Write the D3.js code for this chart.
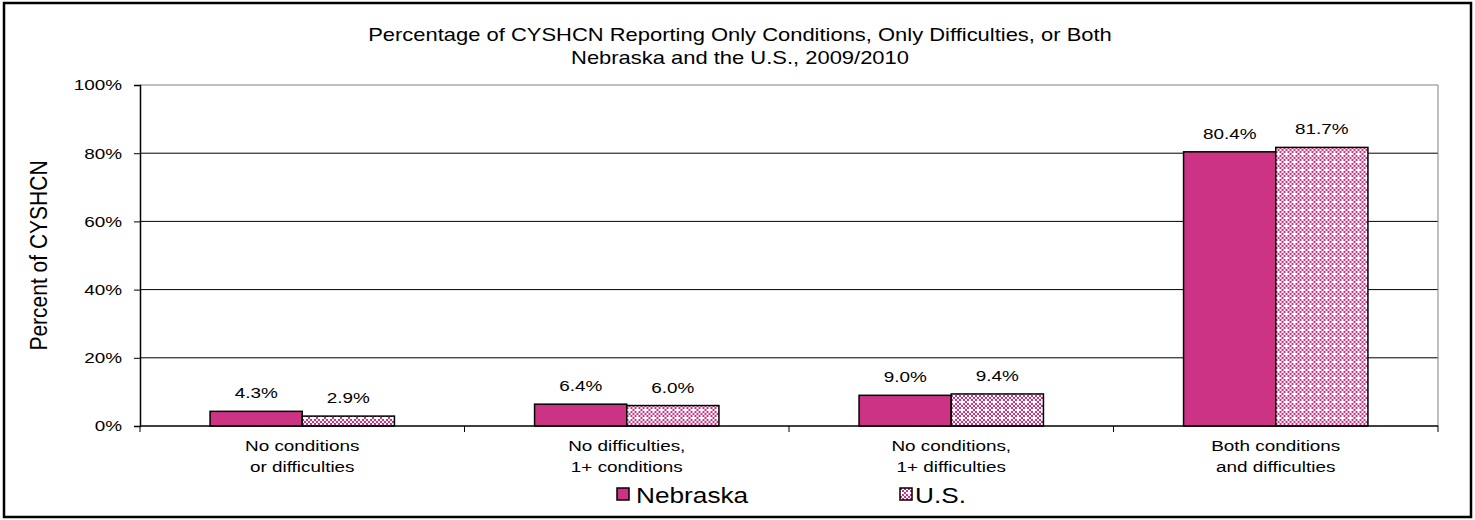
<!DOCTYPE html>
<html>
<head>
<meta charset="utf-8">
<script src="https://cdn.jsdelivr.net/npm/d3@7"></script>
<style>
  body { margin: 0; background: #fff; }
  text { font-family: "Liberation Sans", Arial, sans-serif; fill: #000; }
</style>
</head>
<body>
<script>
// donnees
var categories = [
  ["No conditions", "or difficulties"],
  ["No difficulties,", "1+ conditions"],
  ["No conditions,", "1+ difficulties"],
  ["Both conditions", "and difficulties"]
];
var seriesNames = ["Nebraska", "U.S."];
var nebraska = [4.3, 6.4, 9.0, 80.4];
var us = [2.9, 6.0, 9.4, 81.7];
var yTicks = [0, 20, 40, 60, 80, 100];
var titleLines = [
  "Percentage of CYSHCN Reporting Only Conditions, Only Difficulties, or Both",
  "Nebraska and the U.S., 2009/2010"
];

var W = 1475, H = 520;
var SX = 1.22; // etirement horizontal du texte
var magenta = "#cc3385";
var margin = {top: 85, left: 140, right: 37, bottom: 94};
var width = W - margin.left - margin.right,
    height = H - margin.top - margin.bottom;

var svg = d3.select("body").append("svg")
    .attr("width", W)
    .attr("height", H);

// texte etire
function stretchText(parent, x, y, size, anchor) {
  return parent.append("text")
    .attr("transform", "translate(" + x + "," + y + ") scale(" + SX + ",1)")
    .attr("text-anchor", anchor || "middle")
    .style("font-size", size + "px");
}

// motif damier pour U.S.
var defs = svg.append("defs");
var pat = defs.append("pattern")
    .attr("id", "damier")
    .attr("patternUnits", "userSpaceOnUse")
    .attr("width", 8).attr("height", 8);
pat.append("rect").attr("width", 8).attr("height", 8).attr("fill", "#fff");
for (var i = 0; i < 4; i++) {
  for (var j = 0; j < 4; j++) {
    if ((i + j) % 2 == 0 && !(i == 2 && j == 2)) {
      pat.append("rect").attr("x", i * 2).attr("y", j * 2)
        .attr("width", 2).attr("height", 2).attr("fill", magenta);
    }
  }
}

// cadre exterieur
svg.append("rect")
    .attr("x", 4).attr("y", 3)
    .attr("width", W - 8).attr("height", H - 6)
    .attr("fill", "none").attr("stroke", "#000").attr("stroke-width", 2.5);

// titre
titleLines.forEach(function(t, i) {
  stretchText(svg, 740, 41 + i * 23, 18, "middle").text(t);
});

var g = svg.append("g")
    .attr("transform", "translate(" + margin.left + "," + margin.top + ")");

// ECHELLES
var x0 = d3.scaleBand().domain(d3.range(categories.length)).range([0, width]).padding(0);
var x1 = d3.scaleBand().domain(seriesNames).range([0, x0.bandwidth()]).paddingInner(0).paddingOuter(0.76);
var y = d3.scaleLinear().domain([0, 100]).range([height, 0]);

// grille
g.selectAll(".grid").data(yTicks.slice(1)).enter().append("line")
    .attr("x1", 0).attr("x2", width)
    .attr("y1", function(d) { return y(d); })
    .attr("y2", function(d) { return y(d); })
    .attr("stroke", function(d) { return d == 100 ? "#808080" : "#000"; })
    .attr("stroke-width", 1);

// bord droit gris
g.append("line")
    .attr("x1", width).attr("x2", width)
    .attr("y1", 0).attr("y2", height)
    .attr("stroke", "#808080");

// barres
var series = [nebraska, us];
categories.forEach(function(c, ci) {
  var grp = g.append("g").attr("transform", "translate(" + x0(ci) + ",0)");
  seriesNames.forEach(function(s, si) {
    var v = series[si][ci];
    grp.append("rect")
      .attr("x", x1(s))
      .attr("y", y(v))
      .attr("width", x1.bandwidth())
      .attr("height", height - y(v))
      .attr("fill", si == 0 ? magenta : "url(#damier)")
      .attr("stroke", "#000")
      .attr("stroke-width", 1.5);
    stretchText(grp, x1(s) + x1.bandwidth() / 2, y(v) - 13, 15.5, "middle")
      .text(v.toFixed(1) + "%");
  });
});

// axe Y
var axeY = g.append("g")
    .call(d3.axisLeft(y).tickValues(yTicks).tickSize(6).tickFormat(function(d) { return d + "%"; }));
axeY.select(".domain").attr("stroke", "#000").attr("stroke-width", 1.5);
axeY.selectAll(".tick line").attr("stroke", "#000");
axeY.selectAll(".tick text")
    .attr("x", 0)
    .attr("transform", "translate(-18,0) scale(" + SX + ",1)")
    .style("font-size", "15.5px")
    .style("font-family", "Liberation Sans, Arial, sans-serif");

// axe X
var axeX = g.append("g").attr("transform", "translate(0," + height + ")");
axeX.append("line").attr("x1", 0).attr("x2", width)
    .attr("stroke", "#000").attr("stroke-width", 1.5);
axeX.selectAll(".sep").data(d3.range(categories.length + 1)).enter().append("line")
    .attr("x1", function(d) { return d * x0.bandwidth(); })
    .attr("x2", function(d) { return d * x0.bandwidth(); })
    .attr("y1", 0).attr("y2", 6)
    .attr("stroke", "#000");
categories.forEach(function(c, ci) {
  var t = stretchText(axeX, x0(ci) + x0.bandwidth() / 2, 25, 15.5, "middle");
  t.selectAll("tspan").data(c).enter().append("tspan")
    .attr("x", 0)
    .attr("dy", function(d, i) { return i == 0 ? 0 : 21; })
    .text(function(d) { return d; });
});

// titre axe Y
svg.append("text")
    .attr("transform", "translate(47," + (margin.top + height / 2) + ") rotate(-90) scale(1,1.12)")
    .attr("text-anchor", "middle")
    .style("font-size", "21px")
    .text("Percent of CYSHCN");

// legende
var legBox = [617, 900];
var legText = [636, 915];
seriesNames.forEach(function(s, si) {
  svg.append("rect")
    .attr("x", legBox[si]).attr("y", 488)
    .attr("width", 12).attr("height", 12)
    .attr("fill", si == 0 ? magenta : "url(#damier)")
    .attr("stroke", "#000").attr("stroke-width", 1.5);
  stretchText(svg, legText[si], 503, 21.5, "start").text(s);
});
</script>
</body>
</html>
